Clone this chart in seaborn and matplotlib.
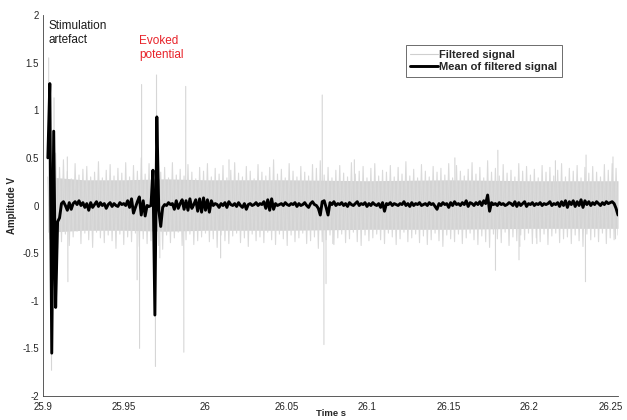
import numpy as np
import pandas as pd
import matplotlib
matplotlib.use("Agg")
import matplotlib.pyplot as plt
from matplotlib.lines import Line2D
import seaborn as sns

# ---------------- data ----------------
t_start = 25.9030
dt = 0.0012

mean_signal = [
    0.50, 1.28, -1.55, 0.78, -1.07, -0.17, -0.13, 0.02, 0.04, 0.00,
    -0.05, 0.03, -0.04, 0.02, 0.04, 0.01, 0.05, 0.00, 0.03, -0.02,
    0.02, -0.05, 0.03, -0.02, 0.01, 0.04, -0.01, 0.03, 0.00, 0.02,
    -0.03, 0.01, 0.03, -0.01, 0.02, 0.00, -0.01, 0.03, 0.01, 0.02,
    0.00, 0.05, -0.02, 0.07, -0.08, -0.02, 0.04, 0.09, -0.10, 0.05,
    -0.11, 0.00, -0.01, 0.00, 0.37, -1.15, 0.93, -0.05, -0.22, -0.02,
    0.01, 0.00, 0.03, 0.01, 0.02, -0.04, 0.05, -0.03, 0.02, 0.06,
    -0.04, 0.05, -0.05, 0.07, -0.03, 0.01, 0.06, -0.06, 0.07, -0.07,
    0.08, -0.05, 0.06, -0.07, 0.05, 0.00, 0.02, 0.01, -0.02, 0.02,
    0.00, 0.03, -0.02, 0.04, 0.01, 0.00, 0.02, -0.01, 0.03, 0.00,
    -0.02, 0.02, -0.04, 0.01, 0.02, 0.00, 0.01, 0.03, 0.00, 0.02,
    0.01, 0.04, -0.03, 0.06, -0.05, 0.07, -0.04, 0.02, 0.00, 0.01,
    0.02, 0.00, 0.03, 0.01, 0.00, 0.02, 0.01, 0.03, -0.01, 0.02,
    0.00, 0.01, 0.03, 0.00, -0.02, 0.02, 0.04, 0.01, 0.00, -0.03,
    -0.10, 0.04, 0.05, -0.02, -0.10, 0.03, 0.01, 0.04, 0.00, 0.02,
    0.01, 0.03, 0.00, 0.02, -0.01, 0.03, 0.01, 0.00, 0.02, 0.04,
    0.00, 0.02, 0.01, 0.03, -0.01, 0.02, 0.00, 0.03, 0.01, 0.00,
    0.02, -0.02, 0.03, -0.06, 0.02, 0.01, 0.03, 0.00, 0.02, 0.01,
    0.00, 0.02, 0.01, 0.04, 0.00, 0.02, -0.01, 0.03, 0.00, 0.02,
    0.01, 0.03, 0.00, 0.01, 0.02, 0.00, 0.03, 0.01, 0.02, -0.01,
    -0.04, 0.02, 0.00, 0.03, 0.01, 0.02, -0.02, 0.03, 0.00, 0.04,
    0.01, 0.02, 0.00, 0.03, 0.01, 0.05, -0.01, 0.03, 0.02, 0.00,
    0.03, 0.01, 0.04, 0.00, 0.05, 0.02, 0.11, -0.06, 0.03, 0.01,
    0.02, 0.00, 0.03, 0.01, 0.02, 0.00, 0.01, 0.03, 0.02, 0.00,
    0.04, -0.01, 0.03, 0.00, 0.02, 0.04, -0.01, 0.02, 0.01, 0.03,
    0.00, 0.02, 0.01, 0.03, 0.00, 0.02, 0.01, 0.02, 0.04, 0.00,
    0.02, 0.01, 0.03, -0.01, 0.04, 0.00, 0.05, -0.02, 0.04, 0.01,
    0.05, -0.01, 0.04, 0.00, 0.06, -0.02, 0.05, 0.01, 0.04, 0.00,
    0.03, 0.01, 0.04, 0.02, 0.00, 0.03, 0.01, 0.04, 0.02, 0.03,
    0.04, 0.02, -0.03, -0.10,
]

filtered_signal = [
    0.30, -0.35, 0.45, -0.40, 0.55, -0.45, 0.40, -0.38, 0.48, -0.30,
    0.36, -0.42, 0.28, -0.33, 0.44, -0.27, 0.32, -0.40, 0.38, -0.29,
    0.41, -0.36, 0.30, -0.44, 0.35, -0.28, 0.46, -0.34, 0.29, -0.39,
    0.37, -0.31, 0.43, -0.37, 0.31, -0.45, 0.39, -0.30, 0.34, -0.41,
    0.45, -0.33, 0.30, -0.38, 0.42, -0.29, 0.36, -0.43, 0.50, -0.35,
    0.33, -0.40, 0.44, -0.37, 0.38, -0.48, 0.47, -0.42, 0.35, -0.46,
    0.40, -0.31, 0.29, -0.39, 0.45, -0.34, 0.32, -0.28, 0.38, -0.42,
    0.31, -0.36, 0.43, -0.30, 0.35, -0.41, 0.28, -0.37, 0.40, -0.33,
    0.36, -0.29, 0.44, -0.38, 0.30, -0.35, 0.39, -0.44, 0.33, -0.31,
    0.42, -0.37, 0.29, -0.40, 0.37, -0.32, 0.45, -0.29, 0.34, -0.39,
    0.30, -0.34, 0.41, -0.43, 0.36, -0.30, 0.28, -0.37, 0.43, -0.33,
    0.35, -0.39, 0.31, -0.28, 0.40, -0.36, 0.48, -0.41, 0.33, -0.30,
    0.38, -0.35, 0.29, -0.42, 0.44, -0.31, 0.36, -0.38, 0.30, -0.34,
    0.41, -0.29, 0.35, -0.40, 0.31, -0.37, 0.43, -0.33, 0.39, -0.45,
    0.47, -0.38, 0.32, -0.36, 0.40, -0.31, 0.29, -0.41, 0.37, -0.34,
    0.42, -0.30, 0.34, -0.39, 0.30, -0.35, 0.45, -0.28, 0.33, -0.38,
    0.36, -0.42, 0.41, -0.31, 0.29, -0.37, 0.39, -0.34, 0.44, -0.30,
    0.31, -0.36, 0.37, -0.40, 0.35, -0.29, 0.42, -0.33, 0.30, -0.41,
    0.40, -0.35, 0.33, -0.28, 0.46, -0.38, 0.31, -0.34, 0.38, -0.30,
    0.29, -0.39, 0.43, -0.32, 0.36, -0.41, 0.30, -0.36, 0.41, -0.29,
    0.35, -0.37, 0.39, -0.43, 0.32, -0.31, 0.44, -0.35, 0.29, -0.38,
    0.42, -0.30, 0.36, -0.40, 0.31, -0.34, 0.38, -0.29, 0.45, -0.36,
    0.33, -0.41, 0.40, -0.32, 0.29, -0.38, 0.47, -0.44, 0.35, -0.30,
    0.39, -0.35, 0.31, -0.39, 0.43, -0.28, 0.34, -0.42, 0.37, -0.33,
    0.30, -0.37, 0.44, -0.31, 0.36, -0.36, 0.41, -0.29, 0.32, -0.40,
    0.38, -0.34, 0.29, -0.38, 0.42, -0.30, 0.35, -0.41, 0.40, -0.32,
    0.31, -0.29, 0.37, -0.39, 0.44, -0.35, 0.30, -0.33, 0.39, -0.40,
    0.36, -0.31, 0.42, -0.37, 0.29, -0.43, 0.40, -0.30, 0.34, -0.36,
    0.41, -0.33, 0.35, -0.38, 0.30, -0.29, 0.43, -0.40, 0.37, -0.34,
    0.44, -0.36, 0.39, -0.31,
]

# Core of the overlapping trials (dense band)
band_t = [25.9030, 25.925, 25.95, 25.975, 26.0, 26.05, 26.1, 26.15, 26.2, 26.2546]
band_hi = [0.30, 0.27, 0.27, 0.28, 0.27, 0.27, 0.26, 0.27, 0.26, 0.26]
band_lo = [-0.28, -0.26, -0.26, -0.27, -0.26, -0.26, -0.25, -0.25, -0.24, -0.24]

# Individual large excursions of single trials: time, top, bottom
spike_t = [25.9035, 25.9052, 25.9068, 25.9150, 25.9153, 25.9580, 25.9595, 25.9608,
           25.9700, 25.9693, 25.9720, 25.9880, 25.9868, 25.9695, 26.0095, 26.0147,
           26.0722, 26.0732, 26.0745, 26.1790, 26.1935, 26.1670, 26.1805, 26.2345,
           26.2349, 26.2515, 26.0787, 26.1940, 26.2045, 26.2530, 26.0920, 26.1540,
           26.2160]
spike_hi = [1.55, 0.0, 1.13, 0.51, 0.0, 0.0, 0.0, 1.27,
            1.37, 0.0, 0.0, 1.25, 0.0, 0.0, 0.0, 0.48,
            1.16, 0.0, 0.0, 0.0, 0.0, 0.0, 0.58, 0.0,
            0.53, 0.51, 0.0, 0.0, 0.0, 0.0, 0.48, 0.50,
            0.47]
spike_lo = [0.0, -1.73, 0.0, 0.0, -0.80, -0.78, -1.50, 0.0,
            0.0, -1.69, -0.55, 0.0, -1.54, 0.0, -0.55, 0.0,
            0.0, -1.46, -0.82, -0.68, -0.57, 0.0, 0.0, -0.80,
            0.0, 0.0, -0.40, -0.43, -0.40, -0.35, 0.0, 0.0,
            0.0]

x_ticks = [25.9, 25.95, 26.0, 26.05, 26.1, 26.15, 26.2, 26.25]
y_ticks = [-2, -1.5, -1, -0.5, 0, 0.5, 1, 1.5, 2]

# ---------------- build frames ----------------
t = t_start + dt * np.arange(len(mean_signal))
df = pd.DataFrame({"t": t, "mean": mean_signal, "filt": filtered_signal})

spk_rows = []
for k, (st, hi, lo) in enumerate(zip(spike_t, spike_hi, spike_lo)):
    spk_rows.append({"id": k, "t": st, "v": hi})
    spk_rows.append({"id": k, "t": st + 0.00005, "v": lo})
spk = pd.DataFrame(spk_rows)

# ---------------- plot ----------------
sns.set_style("white")
plt.rcParams["font.family"] = ["Liberation Sans", "DejaVu Sans"]
plt.rcParams["axes.unicode_minus"] = False

fig = plt.figure(figsize=(6.27, 4.2), dpi=100)
ax = fig.add_axes([43 / 627, 24 / 420, 575 / 627, 381 / 420])

ax.fill_between(band_t, band_lo, band_hi, color="#d3d3d3", lw=0, zorder=1)
sns.lineplot(data=df, x="t", y="filt", color="#dadada", lw=0.8, ax=ax, zorder=2,
             estimator=None)
sns.lineplot(data=spk, x="t", y="v", units="id", estimator=None, color="#d6d6d6",
             lw=0.8, ax=ax, zorder=2, sort=False)
sns.lineplot(data=df, x="t", y="mean", color="black", lw=2.1, ax=ax, zorder=3,
             estimator=None)

ax.set_xlim(25.9, 26.2546)
ax.set_ylim(-2, 2)
ax.set_xticks(x_ticks)
ax.set_yticks(y_ticks)
ax.set_xticklabels([f"{v:g}" for v in x_ticks])
ax.set_yticklabels([f"{v:g}" for v in y_ticks])
ax.tick_params(direction="in", length=4, width=0.6, colors="#404040",
               labelsize=7, labelcolor="#262626")
ax.tick_params(axis="x", pad=4)
ax.tick_params(axis="y", pad=3)

for side in ["top", "right"]:
    ax.spines[side].set_visible(False)
for side in ["left", "bottom"]:
    ax.spines[side].set_color("#404040")
    ax.spines[side].set_linewidth(0.6)

ax.set_xlabel("Time s", fontsize=6.8, fontweight="bold", labelpad=-1.5)
ax.set_ylabel("Amplitude V", fontsize=7, fontweight="bold", labelpad=4)

ax.text(25.9031, 1.95, "Stimulation\nartefact", fontsize=8.5, color="#1a1a1a",
        va="top", ha="left", linespacing=1.25)
ax.text(25.9592, 1.79, "Evoked\npotential", fontsize=8.5, color="#e8232a",
        va="top", ha="left", linespacing=1.25)

handles = [Line2D([], [], color="#cfcfcf", lw=0.8),
           Line2D([], [], color="black", lw=2.1)]
leg = ax.legend(handles, ["Filtered signal", "Mean of filtered signal"],
                loc="upper left", bbox_to_anchor=(0.631, 0.921), borderaxespad=0,
                frameon=True, fancybox=False, framealpha=1, edgecolor="#555555",
                prop={"weight": "bold", "size": 8}, handlelength=2.5,
                handletextpad=0.1, borderpad=0.4, labelspacing=0.25)
leg.get_frame().set_linewidth(0.6)

fig.savefig("out.png", dpi=100)
